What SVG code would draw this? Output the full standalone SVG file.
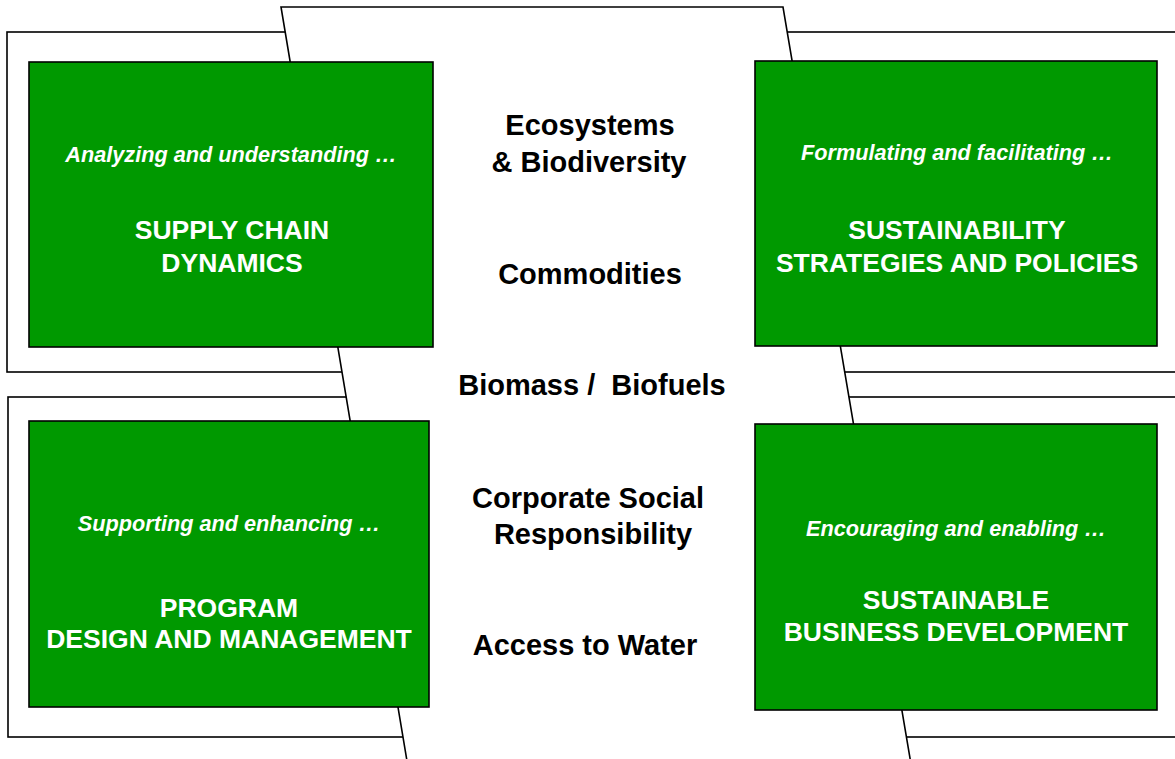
<svg xmlns="http://www.w3.org/2000/svg" width="1175" height="759" viewBox="0 0 1175 759">
<style>
.frame{fill:#ffffff;stroke:#000000;stroke-width:1.6}
.box{fill:#009900;stroke:#000000;stroke-width:1.6}
.it{font-family:"Liberation Sans",Arial,sans-serif;font-size:21.7px;font-weight:bold;font-style:italic;fill:#ffffff;text-anchor:middle}
.cap{font-family:"Liberation Sans",Arial,sans-serif;font-size:26.5px;font-weight:bold;fill:#ffffff;text-anchor:middle}
.mid{font-family:"Liberation Sans",Arial,sans-serif;font-size:29px;font-weight:bold;fill:#000000;text-anchor:middle}
</style>
<rect width="1175" height="759" fill="#ffffff"/>
<g id="background">
<rect class="frame" x="7" y="32" width="493" height="340"/>
<rect class="frame" x="700" y="32" width="500" height="340"/>
<rect class="frame" x="8" y="397" width="492" height="340"/>
<rect class="frame" x="750" y="397" width="450" height="340"/>
<polygon class="frame" points="281,7 783,7 912,770 408.5,770"/>
</g>
<g id="connectors"/>
<g id="supply-chain">
<rect class="box" x="29" y="62" width="404" height="285"/>
<text class="it" x="231" y="162">Analyzing and understanding …</text>
<text class="cap" x="232" y="239">SUPPLY CHAIN</text>
<text class="cap" x="232" y="272">DYNAMICS</text>
</g>
<g id="sustainability-strategies">
<rect class="box" x="755" y="61" width="402" height="285"/>
<text class="it" x="957" y="160">Formulating and facilitating …</text>
<text class="cap" x="957" y="239">SUSTAINABILITY</text>
<text class="cap" x="957" y="272">STRATEGIES AND POLICIES</text>
</g>
<g id="program-design">
<rect class="box" x="29" y="421" width="400" height="286"/>
<text class="it" x="229" y="531">Supporting and enhancing …</text>
<text class="cap" x="229" y="617">PROGRAM</text>
<text class="cap" x="229" y="648">DESIGN AND MANAGEMENT</text>
</g>
<g id="sustainable-business">
<rect class="box" x="755" y="424" width="402" height="286"/>
<text class="it" x="956" y="536">Encouraging and enabling …</text>
<text class="cap" x="956" y="609">SUSTAINABLE</text>
<text class="cap" x="956" y="641">BUSINESS DEVELOPMENT</text>
</g>
<g id="themes">
<text class="mid" x="590" y="135">Ecosystems</text>
<text class="mid" x="589" y="172">&amp; Biodiversity</text>
<text class="mid" x="590" y="284">Commodities</text>
<text class="mid" x="592" y="395" xml:space="preserve">Biomass /  Biofuels</text>
<text class="mid" x="588" y="508">Corporate Social</text>
<text class="mid" x="593" y="544">Responsibility</text>
<text class="mid" x="585" y="655">Access to Water</text>
</g>
</svg>
